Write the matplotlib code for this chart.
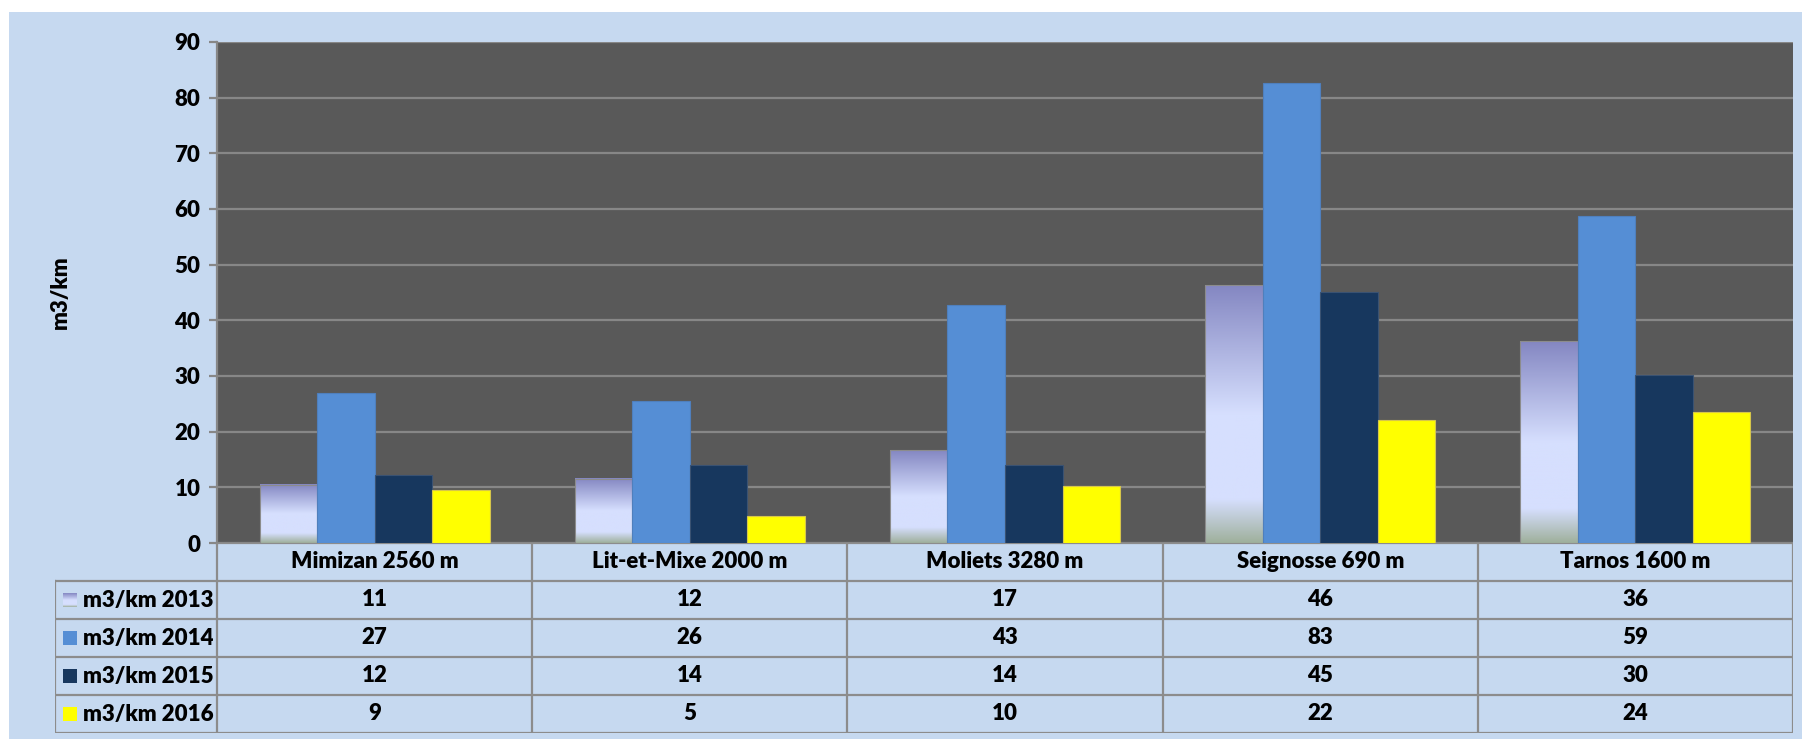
"""Sand volume per km by beach site, 2013-2016, with data table under the bars."""

import matplotlib
matplotlib.use("Agg")
import matplotlib.pyplot as plt  # noqa: E402
import numpy as np  # noqa: E402
from matplotlib.colors import LinearSegmentedColormap  # noqa: E402
from matplotlib.patches import Rectangle  # noqa: E402

SITES = ["Mimizan 2560 m", "Lit-et-Mixe 2000 m", "Moliets 3280 m",
         "Seignosse 690 m", "Tarnos 1600 m"]
SERIES = ["m3/km 2013", "m3/km 2014", "m3/km 2015", "m3/km 2016"]

# bar heights
V2013 = [10.5, 11.5, 16.7, 46.3, 36.2]
V2014 = [26.9, 25.5, 42.7, 82.7, 58.7]
V2015 = [12.2, 14.1, 14.1, 45.1, 30.1]
V2016 = [9.5, 4.8, 10.2, 22.1, 23.6]

# rounded values printed in the data table
T2013 = [11, 12, 17, 46, 36]
T2014 = [27, 26, 43, 83, 59]
T2015 = [12, 14, 14, 45, 30]
T2016 = [9, 5, 10, 22, 24]

YTICKS = list(range(0, 91, 10))

BG = "#c6d9f0"
PLOT_BG = "#595959"
GRID = "#878787"
C2014 = "#558ed5"
C2015 = "#17375e"
C2016 = "#ffff00"
GRAD = LinearSegmentedColormap.from_list(
    "g2013", [(0.0, "#8487c2"), (0.5, "#d6dffe"), (0.83, "#d6dffe"), (1.0, "#9fb09c")])

FS = 16
FW = "heavy"
plt.rcParams["font.family"] = ["Lato", "DejaVu Sans"]
plt.rcParams["font.weight"] = FW

W, H = 1802, 739
fig = plt.figure(figsize=(W / 100, H / 100), dpi=100)
fig.patch.set_facecolor("white")
fig.add_artist(Rectangle((9 / W, 0), 1, (H - 12) / H, transform=fig.transFigure,
                         facecolor=BG, edgecolor="none", zorder=-10))

ax = fig.add_axes([217 / W, (H - 543) / H, (1793 - 217) / W, (543 - 42) / H])
ax.set_facecolor(PLOT_BG)
ax.set_xlim(-0.5, len(SITES) - 0.5)
ax.set_ylim(0, 90)
ax.set_yticks(YTICKS)
ax.set_yticklabels([str(t) for t in YTICKS], fontsize=FS, fontweight=FW)
ax.set_xticks([])
ax.grid(axis="y", color=GRID, linewidth=1.6)
ax.set_axisbelow(True)
for s in ("top", "right", "bottom"):
    ax.spines[s].set_visible(False)
ax.spines["left"].set_color(GRID)
ax.spines["left"].set_linewidth(1.6)
ax.tick_params(axis="y", length=6, width=1.6, color=GRID, pad=6)

x = np.arange(len(SITES))
bw = 0.1825
grad = np.linspace(0, 1, 256).reshape(-1, 1)
bars13 = ax.bar(x - 1.5 * bw, V2013, bw, facecolor="none", edgecolor="#8c8c8c",
                linewidth=0.8, zorder=3)
for b in bars13:
    ax.imshow(grad, cmap=GRAD, aspect="auto", origin="upper", zorder=2,
              extent=(b.get_x(), b.get_x() + b.get_width(), 0, b.get_height()))
ax.set_xlim(-0.5, len(SITES) - 0.5)
ax.set_ylim(0, 90)
ax.bar(x - 0.5 * bw, V2014, bw, color=C2014, edgecolor="#4f7fbd", linewidth=0.8, zorder=3)
ax.bar(x + 0.5 * bw, V2015, bw, color=C2015, edgecolor="#3a5272", linewidth=0.8, zorder=3)
ax.bar(x + 1.5 * bw, V2016, bw, color=C2016, edgecolor="#d6c64a", linewidth=0.8, zorder=3)

fig.text(60 / W, 1 - 292 / H, "m3/km", rotation=90, ha="center", va="center",
         fontsize=FS, fontweight=FW)

# data table, one column per site and a label column on the left
tax = fig.add_axes([55 / W, (H - 733) / H, (1793 - 55) / W, (733 - 543) / H])
lab_w = 162 / 315.2
tax.set_xlim(-lab_w, len(SITES))
tax.set_ylim(len(SERIES) + 1, 0)
tax.axis("off")
lc = dict(color="#8c8c8c", linewidth=1.6, solid_capstyle="projecting")
tax.plot([0, len(SITES)], [0, 0], **lc)
for r in range(1, len(SERIES) + 2):
    tax.plot([-lab_w, len(SITES)], [r, r], **lc)
tax.plot([-lab_w, -lab_w], [1, len(SERIES) + 1], **lc)
for c in range(len(SITES) + 1):
    tax.plot([c, c], [0, len(SERIES) + 1], **lc)

for i, site in enumerate(SITES):
    tax.text(i + 0.5, 0.5, site, ha="center", va="center", fontsize=FS, fontweight=FW)

rows = [T2013, T2014, T2015, T2016]
colors = [None, C2014, C2015, C2016]
px = 1 / 315.2
for r, (name, vals, col) in enumerate(zip(SERIES, rows, colors)):
    yc = r + 1.5
    x0, x1 = (63 - 217) * px, (77 - 217) * px
    if col is None:
        tax.imshow(grad, cmap=GRAD, aspect="auto", origin="upper",
                   extent=(x0, x1, yc + 0.18, yc - 0.18))
    else:
        tax.add_patch(Rectangle((x0, yc - 0.18), x1 - x0, 0.36, facecolor=col,
                                edgecolor="none"))
    tax.text((83 - 217) * px, yc, name, ha="left", va="center", fontsize=FS,
             fontweight=FW)
    for i, v in enumerate(vals):
        tax.text(i + 0.5, yc, str(v), ha="center", va="center", fontsize=FS,
                 fontweight=FW)
tax.set_xlim(-lab_w, len(SITES))
tax.set_ylim(len(SERIES) + 1, 0)

fig.savefig("out.png", dpi=100)
plt.close(fig)
